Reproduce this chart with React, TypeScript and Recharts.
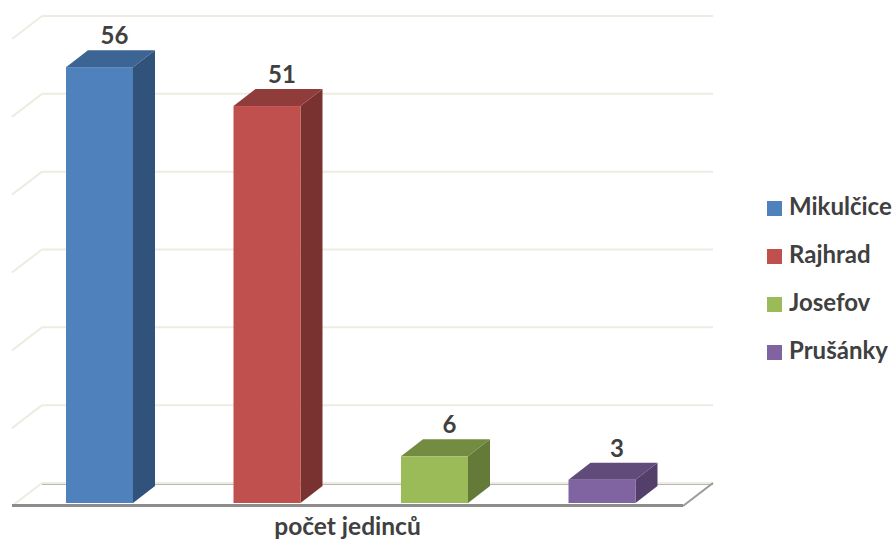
import React from 'react';
import { BarChart, Bar, XAxis, YAxis, CartesianGrid, Legend, LabelList } from 'recharts';

const categories = ['počet jedinců'];
const seriesNames = ['Mikulčice', 'Rajhrad', 'Josefov', 'Prušánky'];
const seriesValues = [56, 51, 6, 3];
const yTicks = [0, 10, 20, 30, 40, 50, 60];

const frontColors = ['#4f81bd', '#c0504d', '#9bbb59', '#8064a2'];
const topColors = ['#3d6593', '#8f3c3a', '#748c42', '#604b7a'];
const sideColors = ['#31527a', '#7a3230', '#647a39', '#533f6a'];

const data = categories.map((name) => {
  const row: Record<string, string | number> = { name };
  seriesNames.forEach((s, i) => {
    row[s] = seriesValues[i];
  });
  return row;
});

const TEXT = '#404040';
const FONT = 'Lato, sans-serif';

// bar depth and wall depth of the fake 3D
const BAR_DX = 22;
const BAR_DY = 17;
const WALL_DX = 30;
const WALL_DY = 20;

const Box3D = (idx: number) => (props: any) => {
  const { x, y, width: w, height: h } = props;
  return (
    <g>
      <polygon
        points={`${x + w},${y} ${x + w + BAR_DX},${y - BAR_DY} ${x + w + BAR_DX},${y + h - BAR_DY} ${x + w},${y + h}`}
        fill={sideColors[idx]}
      />
      <polygon
        points={`${x},${y} ${x + BAR_DX},${y - BAR_DY} ${x + w + BAR_DX},${y - BAR_DY} ${x + w},${y}`}
        fill={topColors[idx]}
      />
      <rect x={x} y={y} width={w} height={h} fill={frontColors[idx]} />
    </g>
  );
};

// each horizontal grid line becomes a back wall line plus a diagonal on the side wall
const WallLine = (props: any) => {
  const { x1, x2, y1, index } = props;
  const backY = y1 - WALL_DY;
  const isFloor = index === 0;
  return (
    <g key={props.key}>
      <line x1={x1} y1={y1 + 3} x2={x1 + WALL_DX} y2={backY} stroke="#eeece1" strokeWidth={2} />
      <line x1={x1 + WALL_DX} y1={backY} x2={x2 + WALL_DX} y2={backY} stroke="#eeece1" strokeWidth={2} />
      {isFloor && (
        <>
          <line x1={x1 + WALL_DX} y1={backY + 1.5} x2={x2 + WALL_DX} y2={backY + 1.5} stroke="#b8b8b0" strokeWidth={1} />
          <line x1={x2} y1={y1 + 3} x2={x2 + WALL_DX} y2={backY} stroke="#9a9a9a" strokeWidth={2} />
          <line x1={x1} y1={y1 + 2.5} x2={x2} y2={y1 + 2.5} stroke="#8c8c8c" strokeWidth={3} />
        </>
      )}
    </g>
  );
};

const LegendBox = () => (
  <div style={{ fontFamily: FONT, fontWeight: 700, fontSize: 24, color: TEXT }}>
    {seriesNames.map((s, i) => (
      <div key={s} style={{ height: 48, display: 'flex', alignItems: 'center' }}>
        <span style={{ width: 15, height: 15, background: frontColors[i], marginRight: 7, flex: 'none' }} />
        <span style={{ whiteSpace: 'nowrap', position: 'relative', top: -3 }}>{s}</span>
      </div>
    ))}
  </div>
);

export default function App() {
  return (
    <div style={{ position: 'absolute', left: 0, top: 0, background: '#fff' }}>
      <BarChart
        width={895}
        height={539}
        data={data}
        margin={{ top: 36, right: 212, bottom: 0, left: 12 }}
        barSize={67}
        barGap={100.5}
      >
        <CartesianGrid vertical={false} horizontal={WallLine} syncWithTicks />
        <XAxis
          dataKey="name"
          axisLine={false}
          tickLine={false}
          padding={{ left: 7, right: 0 }}
          height={36}
          tickMargin={9}
          tick={{ fill: TEXT, fontSize: 24.5, fontWeight: 700, fontFamily: FONT, dx: -3.5 }}
        />
        <YAxis hide domain={[0, 60]} ticks={yTicks} interval={0} />
        <Legend
          layout="vertical"
          align="center"
          verticalAlign="middle"
          wrapperStyle={{ left: 767, top: 184, width: 128 }}
          content={<LegendBox />}
        />
        {seriesNames.map((s, i) => (
          <Bar key={s} dataKey={s} name={s} fill={frontColors[i]} shape={Box3D(i)} isAnimationActive={false}>
            <LabelList
              dataKey={s}
              position="top"
              offset={23}
              dx={15}
              fill={TEXT}
              fontSize={24}
              fontWeight={700}
              fontFamily={FONT}
            />
          </Bar>
        ))}
      </BarChart>
    </div>
  );
}
